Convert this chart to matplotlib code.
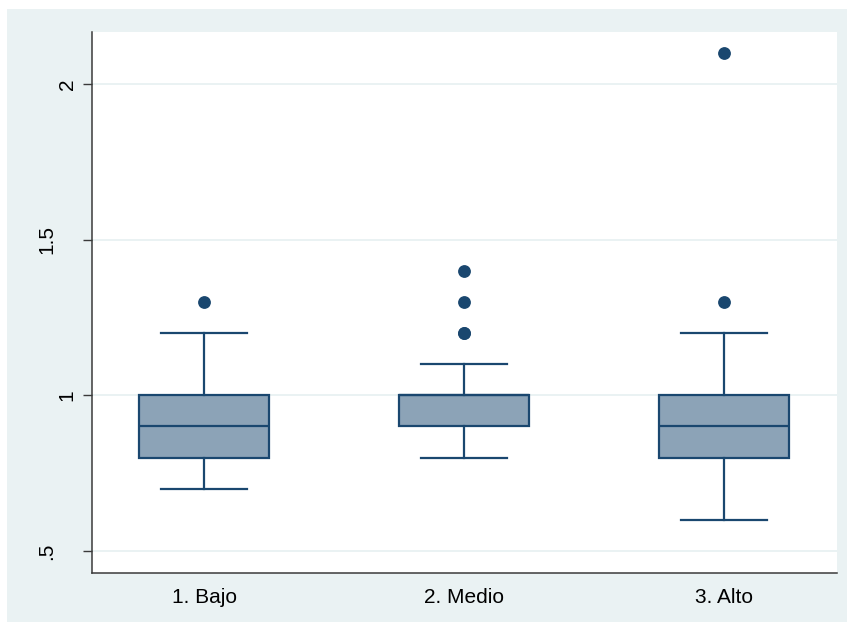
import matplotlib
matplotlib.use("Agg")
import matplotlib.pyplot as plt
from matplotlib.patches import Rectangle
from matplotlib.transforms import ScaledTranslation

# Box-plot summaries per group
categories = ["1. Bajo", "2. Medio", "3. Alto"]
whisker_low = [0.7, 0.8, 0.6]
q1 = [0.8, 0.9, 0.8]
median = [0.9, 1.0, 0.9]
q3 = [1.0, 1.0, 1.0]
whisker_high = [1.2, 1.1, 1.2]
outliers = [[1.3], [1.2, 1.2, 1.3, 1.4], [1.3, 2.1]]

y_ticks = [0.5, 1.0, 1.5, 2.0]
y_tick_labels = [".5", "1", "1.5", "2"]

navy = "#1a476f"
box_fill = "#8ca3b7"
region_bg = "#eaf2f3"

plt.rcParams["font.family"] = ["Liberation Sans", "DejaVu Sans"]

fig = plt.figure(figsize=(8.47, 6.22), dpi=100, facecolor="white")
# graph region background
fig.patches.append(Rectangle((7 / 847, 0), 1 - 7 / 847, 1 - 9 / 622,
                             transform=fig.transFigure, facecolor=region_bg,
                             edgecolor="none", zorder=-10))

ax = fig.add_axes([92 / 847, 1 - 573 / 622, (837 - 92) / 847, (573 - 32) / 622])
ax.set_facecolor("white")

stats = []
for i, name in enumerate(categories):
    stats.append(dict(label=name, whislo=whisker_low[i], q1=q1[i], med=median[i],
                      q3=q3[i], whishi=whisker_high[i], fliers=outliers[i]))

positions = list(range(1, len(categories) + 1))
ax.bxp(stats, positions=positions, widths=0.5, capwidths=0.33, patch_artist=True,
       showfliers=True,
       boxprops=dict(facecolor=box_fill, edgecolor=navy, linewidth=1.6),
       medianprops=dict(color=navy, linewidth=1.6),
       whiskerprops=dict(color=navy, linewidth=1.6),
       capprops=dict(color=navy, linewidth=1.6),
       flierprops=dict(marker="o", markerfacecolor=navy, markeredgecolor=navy,
                       markersize=8.2, linestyle="none"),
       zorder=3)

ax.set_xlim(0.569, 3.435)
ax.set_ylim(0.4293, 2.167)

ax.set_yticks(y_ticks)
ax.set_yticklabels([])
# rotated y labels; labels with a decimal point sit further from the axis
for val, txt in zip(y_ticks, y_tick_labels):
    shift_px = -35.5 if "." in txt else -15.5
    tr = ax.get_yaxis_transform() + ScaledTranslation(shift_px / 100, 0,
                                                      fig.dpi_scale_trans)
    ax.text(0, val, txt, transform=tr, rotation=90, ha="right", va="center",
            fontsize=15, color="black", clip_on=False)

ax.set_xticks(positions)
ax.set_xticklabels(categories, fontsize=15)

ax.yaxis.grid(True, color=region_bg, linewidth=1.4, zorder=0)
ax.set_axisbelow(True)

for side in ("top", "right"):
    ax.spines[side].set_visible(False)
for side in ("left", "bottom"):
    ax.spines[side].set_color("#3a3a3a")
    ax.spines[side].set_linewidth(1.1)

ax.tick_params(axis="y", length=6.5, width=1.0, color="#3a3a3a")
ax.tick_params(axis="x", length=0, pad=11, labelcolor="black")

fig.savefig("out.png", dpi=100, facecolor=fig.get_facecolor())
